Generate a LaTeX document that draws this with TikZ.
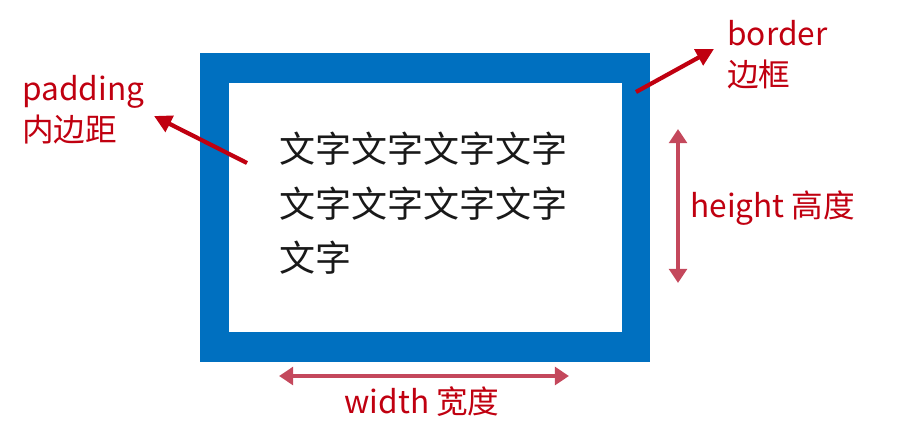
\documentclass[tikz,border=0pt]{standalone}
\usepackage{fontspec}
\setmainfont{Noto Sans CJK SC}
\usetikzlibrary{arrows.meta}

\definecolor{boxblue}{RGB}{0,112,192}
\definecolor{notered}{RGB}{192,0,16}
\definecolor{dimred}{RGB}{196,72,92}

\begin{document}
\begin{tikzpicture}[x=0.02cm, y=-0.02cm,
    note/.style={text=notered, font=\fontsize{18}{23.5}\selectfont, align=left, inner sep=0pt},
    dimlabel/.style={text=notered, font=\fontsize{18}{21}\selectfont, inner sep=0pt},
    pointer/.style={draw=notered, line width=2.4pt, -{Triangle[length=10pt, width=10pt]}},
    dimline/.style={draw=dimred, line width=2.2pt, {Triangle[length=8pt, width=10pt]}-{Triangle[length=8pt, width=10pt]}}]
  \useasboundingbox (0,0) rectangle (908,422);
  % the box with its thick border
  \fill[boxblue] (200,53) rectangle (650,362);
  \fill[white] (229,83) rectangle (622,332);
  \node[anchor=north west, inner sep=0pt, text=black!90, font=\fontsize{20.5}{31}\selectfont, align=left]
    at (279,132) (txt) {文字文字文字文字\\文字文字文字文字\\文字};
  % padding
  \node[note, anchor=north west] at (22,75) (padlbl) {padding\\内边距};
  \coordinate (padtail) at (247,163);
  \coordinate (padtip) at (154,116);
  \draw[pointer] (padtail) -- (padtip);
  % border
  \node[note, anchor=north west] at (727,20) (borderlbl) {border\\边框};
  \coordinate (bordertail) at (636,92);
  \coordinate (bordertip) at (714,49);
  \draw[pointer] (bordertail) -- (bordertip);
  % height
  \coordinate (htop) at (678,129);
  \coordinate (hbot) at (678,283);
  \draw[dimline] (htop) -- (hbot);
  \node[dimlabel, anchor=west] at (690,208) (heightlbl) {height 高度};
  % width
  \coordinate (wleft) at (279,376);
  \coordinate (wright) at (569,376);
  \draw[dimline] (wleft) -- (wright);
  \node[dimlabel] at (422,402) (widthlbl) {width 宽度};
\end{tikzpicture}
\end{document}
